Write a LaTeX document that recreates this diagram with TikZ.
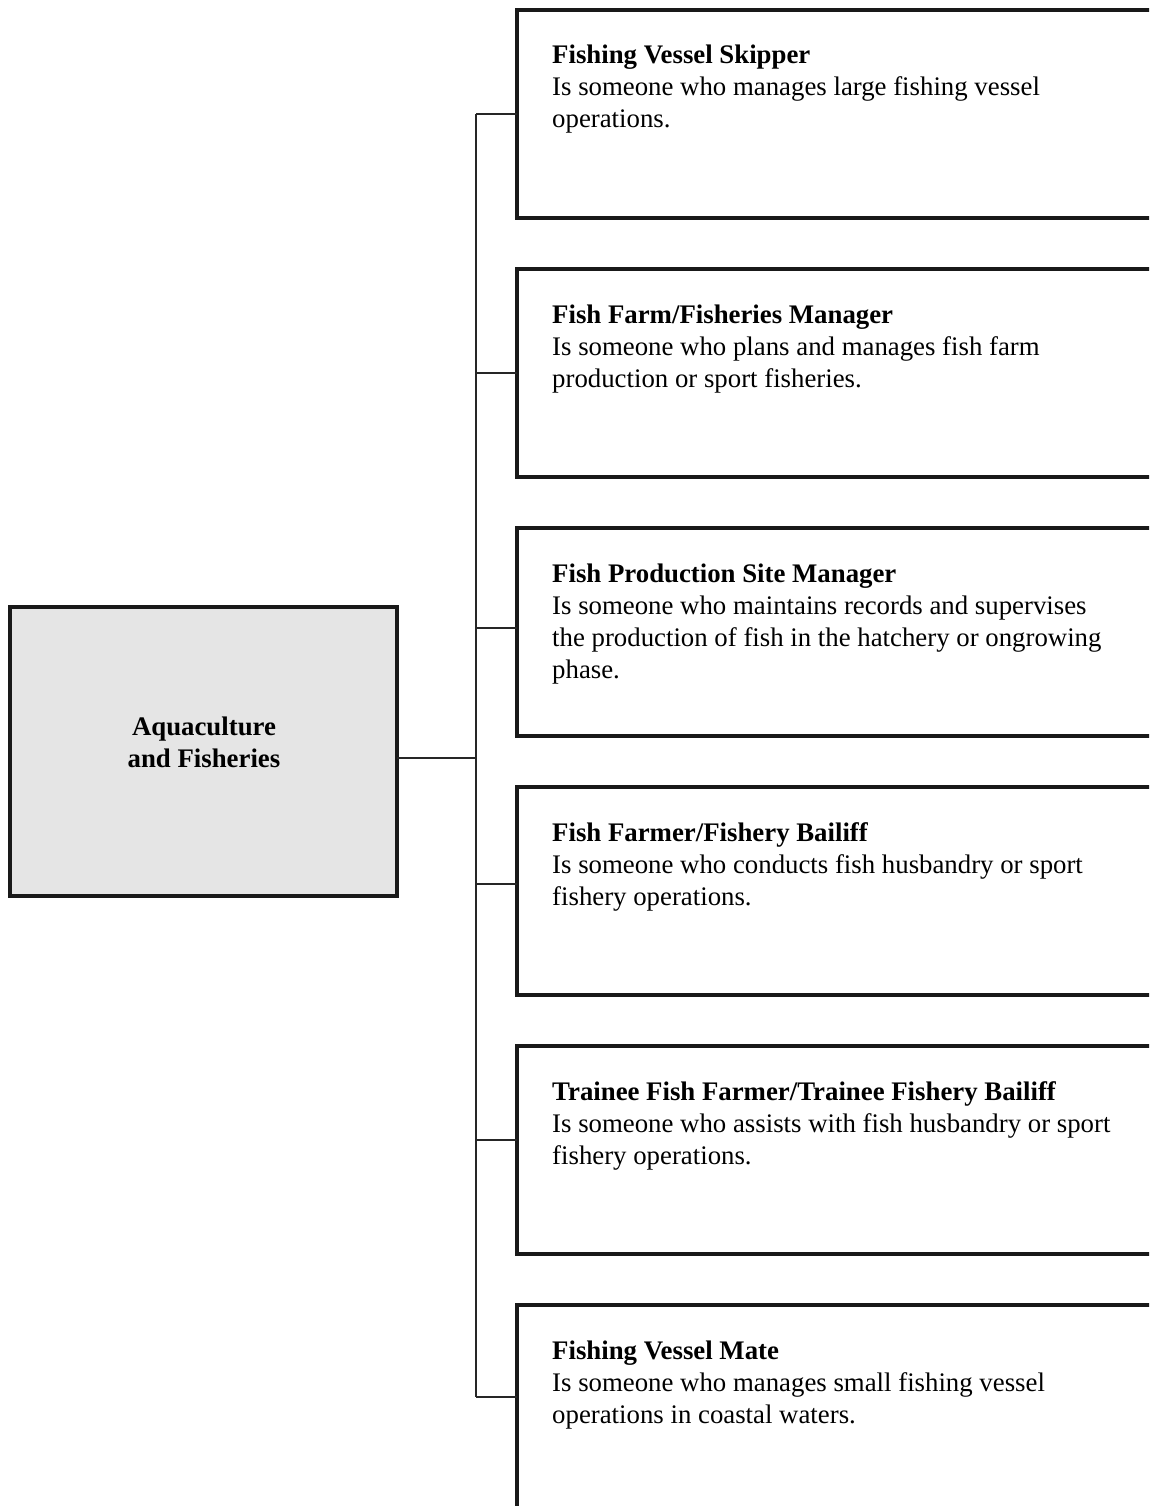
\documentclass[tikz,border=0pt]{standalone}
\usepackage{fontspec}
\setmainfont{Liberation Serif}
\begin{document}
\begin{tikzpicture}[x=1pt,y=-1pt,
  rolebox/.style={draw=black!90,line width=3.2pt,inner sep=0pt,outer sep=0pt,
    minimum width=720pt,minimum height=208pt,anchor=north west},
  rootbox/.style={draw=black!90,fill=black!10,line width=3.2pt,inner sep=0pt,outer sep=0pt,
    minimum width=387pt,minimum height=289pt,anchor=north west},
  roletext/.style={anchor=base west,align=left,inner sep=0pt,
    font=\fontsize{26.8}{32}\selectfont},
  roottext/.style={align=center,inner sep=0pt,font=\fontsize{26.8}{32}\selectfont\bfseries},
  link/.style={draw=black!85,line width=2.6pt}]
\useasboundingbox (0,0) rectangle (1149,1506);
\clip (0,0) rectangle (1149,1506);

\node[rootbox] (root) at (10,607) {};
\node[roottext] (roott) at (204,742) {Aquaculture\\and Fisheries};

\node[rolebox] (b1) at (517,10) {};
\node[rolebox] (b2) at (517,269) {};
\node[rolebox] (b3) at (517,528) {};
\node[rolebox] (b4) at (517,787) {};
\node[rolebox] (b5) at (517,1046) {};
\node[rolebox,minimum height=400pt] (b6) at (517,1305) {};

% base anchor = baseline of the last line
\node[roletext] (t1) at (552,128) {\textbf{Fishing Vessel Skipper}\\Is someone who manages large fishing vessel\\operations.};
\node[roletext] (t2) at (552,387) {\textbf{Fish Farm/Fisheries Manager}\\Is someone who plans and manages fish farm\\production or sport fisheries.};
\node[roletext] (t3) at (552,678) {\textbf{Fish Production Site Manager}\\Is someone who maintains records and supervises\\the production of fish in the hatchery or ongrowing\\phase.};
\node[roletext] (t4) at (552,905) {\textbf{Fish Farmer/Fishery Bailiff}\\Is someone who conducts fish husbandry or sport\\fishery operations.};
\node[roletext] (t5) at (552,1164) {\textbf{Trainee Fish Farmer/Trainee Fishery Bailiff}\\Is someone who assists with fish husbandry or sport\\fishery operations.};
\node[roletext] (t6) at (552,1423) {\textbf{Fishing Vessel Mate}\\Is someone who manages small fishing vessel\\operations in coastal waters.};

\coordinate (j) at (476,758);
\coordinate (k1) at (476,114);
\coordinate (k2) at (476,373);
\coordinate (k3) at (476,628);
\coordinate (k4) at (476,884);
\coordinate (k5) at (476,1140);
\coordinate (k6) at (476,1397);

\draw[link] (root.east |- j) -- (j);
\draw[link] (k1) -- (k6);
\foreach \i in {1,...,6} {
  \draw[link] (k\i) -- (k\i -| b\i.west);
}
\end{tikzpicture}
\end{document}
